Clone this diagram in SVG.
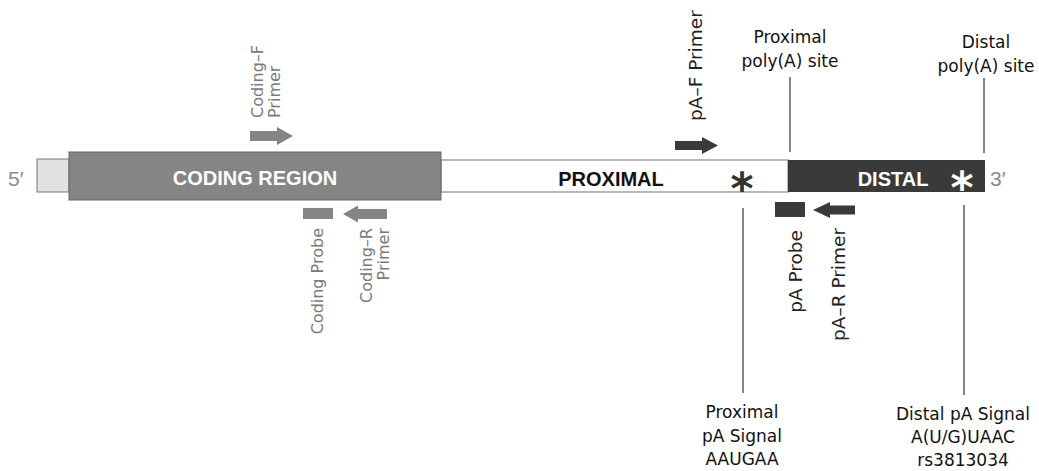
<svg xmlns="http://www.w3.org/2000/svg" width="1039" height="471" viewBox="0 0 1039 471">
<style>
.lbl{font-family:"DejaVu Sans","Liberation Sans",sans-serif;font-size:17px;fill:#111}
.glbl{font-family:"DejaVu Sans","Liberation Sans",sans-serif;font-size:16px;fill:#7a7a7a}
.dlbl{font-family:"DejaVu Sans","Liberation Sans",sans-serif;font-size:18.5px;fill:#222}
.end{font-family:"Liberation Sans",Arial,sans-serif;font-size:21px;fill:#8a8a8a}
.reg{font-family:"Liberation Sans",Arial,sans-serif;font-size:20px;font-weight:bold;text-anchor:middle}
.ast{font-family:"DejaVu Sans",sans-serif;font-size:44px;font-weight:bold;text-anchor:middle}
.gray{fill:#858585}
.dark{fill:#3a3a3a}
.conn{stroke:#333;stroke-width:1.2;fill:none}
</style>
<rect width="1039" height="471" fill="#fff"/>
<g id="five-prime"><text class="end" x="8" y="186">5′</text></g>
<g id="utr5"><rect x="37" y="159" width="32" height="33" fill="#e2e2e2" stroke="#777" stroke-width="1"/></g>
<g id="proximal"><rect x="441" y="160" width="347" height="32" fill="#fff" stroke="#888" stroke-width="1.2"/>
<text class="reg" x="611" y="186" fill="#111">PROXIMAL</text>
<text class="ast" x="742" y="204" fill="#333">*</text></g>
<g id="coding"><rect x="69" y="152" width="372" height="48" fill="#858585" stroke="#666" stroke-width="1"/>
<text class="reg" x="255" y="185" fill="#fff">CODING REGION</text></g>
<g id="distal"><rect x="788" y="160" width="197" height="32" class="dark"/>
<text class="reg" x="893" y="186" fill="#fff">DISTAL</text>
<text class="ast" x="962" y="203" fill="#fff">*</text></g>
<g id="three-prime"><text class="end" x="990" y="186">3′</text></g>
<g id="coding-f-primer">
<path class="gray" d="M250,131 H277 V127 L293,136 L277,145 V141 H250 Z"/>
<text class="glbl" transform="translate(263,118) rotate(-90)">Coding–F</text>
<text class="glbl" transform="translate(280,118) rotate(-90)">Primer</text></g>
<g id="coding-probe">
<rect class="gray" x="303" y="208" width="30" height="11"/>
<text class="glbl" text-anchor="end" transform="translate(323,228) rotate(-90)">Coding Probe</text></g>
<g id="coding-r-primer">
<path class="gray" d="M387,209 H358 V205.5 L343,214 L358,222.5 V219 H387 Z"/>
<text class="glbl" text-anchor="end" transform="translate(372,228) rotate(-90)">Coding–R</text>
<text class="glbl" text-anchor="end" transform="translate(389,228) rotate(-90)">Primer</text></g>
<g id="pa-f-primer">
<path class="dark" d="M675,141 H702 V137 L718,145.5 L702,154 V150 H675 Z"/>
<text class="dlbl" transform="translate(702,121) rotate(-90)">pA–F Primer</text></g>
<g id="pa-probe">
<rect class="dark" x="775" y="202" width="30" height="15"/>
<text class="dlbl" text-anchor="end" transform="translate(802,230) rotate(-90)">pA Probe</text></g>
<g id="pa-r-primer">
<path class="dark" d="M855,205.5 H830 V202 L813,210 L830,218 V214.5 H855 Z"/>
<text class="dlbl" text-anchor="end" transform="translate(845,228) rotate(-90)">pA–R Primer</text></g>
<g id="proximal-site-label"><text class="lbl" text-anchor="middle" x="790" y="43">Proximal</text><text class="lbl" text-anchor="middle" x="790" y="67">poly(A) site</text></g>
<g id="distal-site-label"><text class="lbl" text-anchor="middle" x="986" y="48">Distal</text><text class="lbl" text-anchor="middle" x="986" y="72">poly(A) site</text></g>
<g id="proximal-signal-label"><text class="lbl" text-anchor="middle" x="742" y="418">Proximal</text><text class="lbl" text-anchor="middle" x="742" y="442">pA Signal</text><text class="lbl" text-anchor="middle" x="742" y="465">AAUGAA</text></g>
<g id="distal-signal-label"><text class="lbl" text-anchor="middle" x="963" y="420">Distal pA Signal</text><text class="lbl" text-anchor="middle" x="963" y="443">A(U/G)UAAC</text><text class="lbl" text-anchor="middle" x="963" y="466">rs3813034</text></g>
<g id="connectors">
<line class="conn" x1="790" y1="77" x2="790" y2="152"/>
<line class="conn" x1="984" y1="78" x2="984" y2="153"/>
<line class="conn" x1="743" y1="208" x2="743" y2="393"/>
<line class="conn" x1="964" y1="205" x2="964" y2="395"/>
</g>
</svg>
